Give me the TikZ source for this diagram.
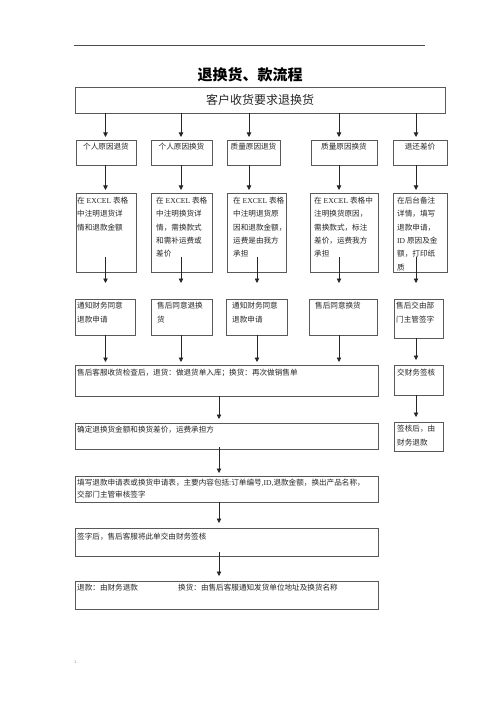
\documentclass[tikz,border=0pt]{standalone}
\usepackage{fontspec}
\setmainfont{Noto Sans CJK SC}
\newfontfamily\lat{Liberation Serif}
\usetikzlibrary{arrows.meta}
\tikzset{
  bx/.style={draw=black!65, line width=0.7pt, inner sep=0pt, outer sep=0pt, anchor=north west},
  tx/.style={inner sep=0pt, text=black!85, font=\fontsize{7.6}{13.3}\selectfont, align=left, anchor=base west},
  txc/.style={tx, anchor=base, align=center},
  arr/.style={draw=black!85, line width=0.8pt, -{Triangle[length=4.5pt,width=4.5pt]}},
}
\newcommand\mybox[5]{\node[bx, minimum width={(#3-#1)*1pt}, minimum height={(#4-#2)*1pt}] (#5) at (#1,#2) {};}
\begin{document}
\begin{tikzpicture}[x=1pt,y=-1pt]
\fill[white] (0,0) rectangle (500,708);
\useasboundingbox (0,0) rectangle (500,708);

% header rule and marks
\draw[black!70, line width=0.6pt] (74,45) -- (425,45);
\node[inner sep=0pt, text=black!40, font=\fontsize{4}{4}\selectfont, anchor=base] (dot) at (424,43) {.};
\node[inner sep=0pt, text=black!45, font=\fontsize{4}{4}\selectfont, anchor=base west] (pg) at (74,663) {1 .};

% title
\node[inner sep=0pt, text=black, font=\fontsize{15}{18}\selectfont\bfseries, anchor=base] (title) at (250,80.6) {退换货、款流程};

% boxes
\mybox{75}{87}{445}{113}{top}
\mybox{76}{140}{136}{165}{r1a}
\mybox{151}{140}{212}{165}{r1b}
\mybox{227}{140}{280}{165}{r1c}
\mybox{311}{140}{377}{165}{r1d}
\mybox{393}{140}{447}{165}{r1e}

\mybox{76}{193}{136}{272}{r2a}
\mybox{151}{193}{212}{272}{r2b}
\mybox{227}{193}{286}{272}{r2c}
\mybox{310}{193}{378}{272}{r2d}
\mybox{393}{193}{447}{272}{r2e}

\mybox{75}{299}{135}{335}{r3a}
\mybox{151}{299}{212}{335}{r3b}
\mybox{226}{299}{287}{335}{r3c}
\mybox{309}{299}{377}{335}{r3d}
\mybox{394}{299}{443}{338}{r3e}

\mybox{75}{365}{378}{396}{r4}
\mybox{394}{365}{443}{395}{r4r}
\mybox{75}{423}{378}{449}{r5}
\mybox{394}{422}{443}{451}{r5r}
\mybox{75}{476}{378}{502}{r6}
\mybox{75}{528}{378}{556}{r7}
\mybox{75}{581}{378}{609}{r8}

% texts (base anchor of a multi-line node is the baseline of its last line)
\node[inner sep=0pt, text=black!85, font=\fontsize{12}{14}\selectfont, anchor=base] (ttop) at (260,104.4) {客户收货要求退换货};

\node[txc] (t1a) at (106,149.8) {个人原因退货};
\node[txc] (t1b) at (181.5,149.8) {个人原因换货};
\node[txc] (t1c) at (253.5,149.8) {质量原因退货};
\node[txc] (t1d) at (344,149.8) {质量原因换货};
\node[txc] (t1e) at (420,149.8) {退还差价};

\node[tx] (t2a) at (77,230.1) {在{\lat\ EXCEL\ }表格\\中注明退货详\\情和退款金额};
\node[tx] (t2b) at (156,256.7) {在{\lat\ EXCEL\ }表格\\中注明换货详\\情，需换款式\\和需补运费或\\差价};
\node[tx] (t2c) at (233,256.7) {在{\lat\ EXCEL\ }表格\\中注明退货原\\因和退款金额，\\运费是由我方\\承担};
\node[tx] (t2d) at (314,256.7) {在{\lat\ EXCEL\ }表格中\\注明换货原因，\\需换款式，标注\\差价，运费我方\\承担};
\node[tx] (t2e) at (397,270.0) {在后台备注\\详情，填写\\退款申请，\\{\lat ID\ }原因及金\\额，打印纸\\质};

\node[tx, font=\fontsize{7.6}{14}\selectfont] (t3a) at (77,322.8) {通知财务同意\\退款申请};
\node[tx, font=\fontsize{7.6}{14}\selectfont] (t3b) at (157,322.8) {售后同意退换\\货};
\node[tx, font=\fontsize{7.6}{14}\selectfont] (t3c) at (232,322.8) {通知财务同意\\退款申请};
\node[tx, font=\fontsize{7.6}{14}\selectfont] (t3d) at (315,308.8) {售后同意换货};
\node[tx, font=\fontsize{7.6}{14}\selectfont] (t3e) at (396,322.8) {售后交由部\\门主管签字};

\node[tx] (t4) at (77,375.8) {售后客服收货检查后，退货：做退货单入库；换货：再次做销售单};
\node[tx] (t4r) at (397,375.8) {交财务签核};
\node[tx] (t5) at (77,432.8) {确定退换货金额和换货差价，运费承担方};
\node[tx, font=\fontsize{7.6}{14}\selectfont] (t5r) at (397,445.8) {签核后，由\\财务退款};
\node[tx, font=\fontsize{7.6}{12}\selectfont] (t6) at (77,497.8) {填写退款申请表或换货申请表，主要内容包括{\lat :}订单编号{\lat ,ID,}退款金额，换出产品名称，\\交部门主管审核签字};
\node[tx] (t7) at (77,539.8) {签字后，售后客服将此单交由财务签核};
\node[tx] (t8a) at (77,590.8) {退款：由财务退款};
\node[tx] (t8b) at (178,590.8) {换货：由售后客服通知发货单位地址及换货名称};

% column coordinates
\coordinate (c1) at (105.5,0);
\coordinate (c2) at (181,0);
\coordinate (c3) at (249,0);
\coordinate (c3b) at (257,0);
\coordinate (c4) at (339,0);
\coordinate (c5) at (416,0);
\coordinate (cm) at (219,0);

% arrows: top -> row 1
\draw[arr] (top.south -| c1) -- ([yshift=3pt]r1a.north -| c1);
\draw[arr] (top.south -| c2) -- ([yshift=3pt]r1b.north -| c2);
\draw[arr] (top.south -| c3) -- ([yshift=3pt]r1c.north -| c3);
\draw[arr] (top.south -| c4) -- ([yshift=3pt]r1d.north -| c4);
\draw[arr] (top.south -| c5) -- ([yshift=3pt]r1e.north -| c5);
% row 1 -> row 2
\draw[arr] (r1a.south -| c1) -- ([yshift=3pt]r2a.north -| c1);
\draw[arr] (r1b.south -| c2) -- ([yshift=3pt]r2b.north -| c2);
\draw[arr] (r1c.south -| c3) -- ([yshift=3pt]r2c.north -| c3);
\draw[arr] (r1d.south -| c4) -- ([yshift=3pt]r2d.north -| c4);
\draw[arr] (r1e.south -| c5) -- ([yshift=3pt]r2e.north -| c5);
% row 2 -> row 3
\draw[arr] ([yshift=15pt]r2a.south -| c1) -- ([yshift=16pt]r3a.north -| c1);
\draw[arr] ([yshift=15pt]r2b.south -| c2) -- ([yshift=16pt]r3b.north -| c2);
\draw[arr] ([yshift=15pt]r2c.south -| c3b) -- ([yshift=16pt]r3c.north -| c3b);
\draw[arr] ([yshift=15pt]r2d.south -| c4) -- ([yshift=16pt]r3d.north -| c4);
\draw[arr] ([yshift=15pt]r2e.south -| c5) -- ([yshift=16pt]r3e.north -| c5);
% row 3 -> row 4
\draw[arr] (r3a.south -| c1) -- ([yshift=3pt]r4.north -| c1);
\draw[arr] (r3b.south -| c2) -- ([yshift=3pt]r4.north -| c2);
\draw[arr] (r3c.south -| c3b) -- ([yshift=3pt]r4.north -| c3b);
\draw[arr] (r3d.south -| c4) -- ([yshift=3pt]r4.north -| c4);
\draw[arr] (r3e.south -| c5) -- ([yshift=5pt]r4r.north -| c5);
% lower chain
\draw[arr] (r4.south -| cm) -- ([yshift=4pt]r5.north -| cm);
\draw[arr] (r4r.south -| c5) -- ([yshift=5pt]r5r.north -| c5);
\draw[arr] ([yshift=2pt]r5.south -| cm) -- ([yshift=3pt]r6.north -| cm);
\draw[arr] (r6.south -| cm) -- ([yshift=5pt]r7.north -| cm);
\draw[arr] ([yshift=4pt]r7.south -| cm) -- ([yshift=5pt]r8.north -| cm);
\end{tikzpicture}
\end{document}
